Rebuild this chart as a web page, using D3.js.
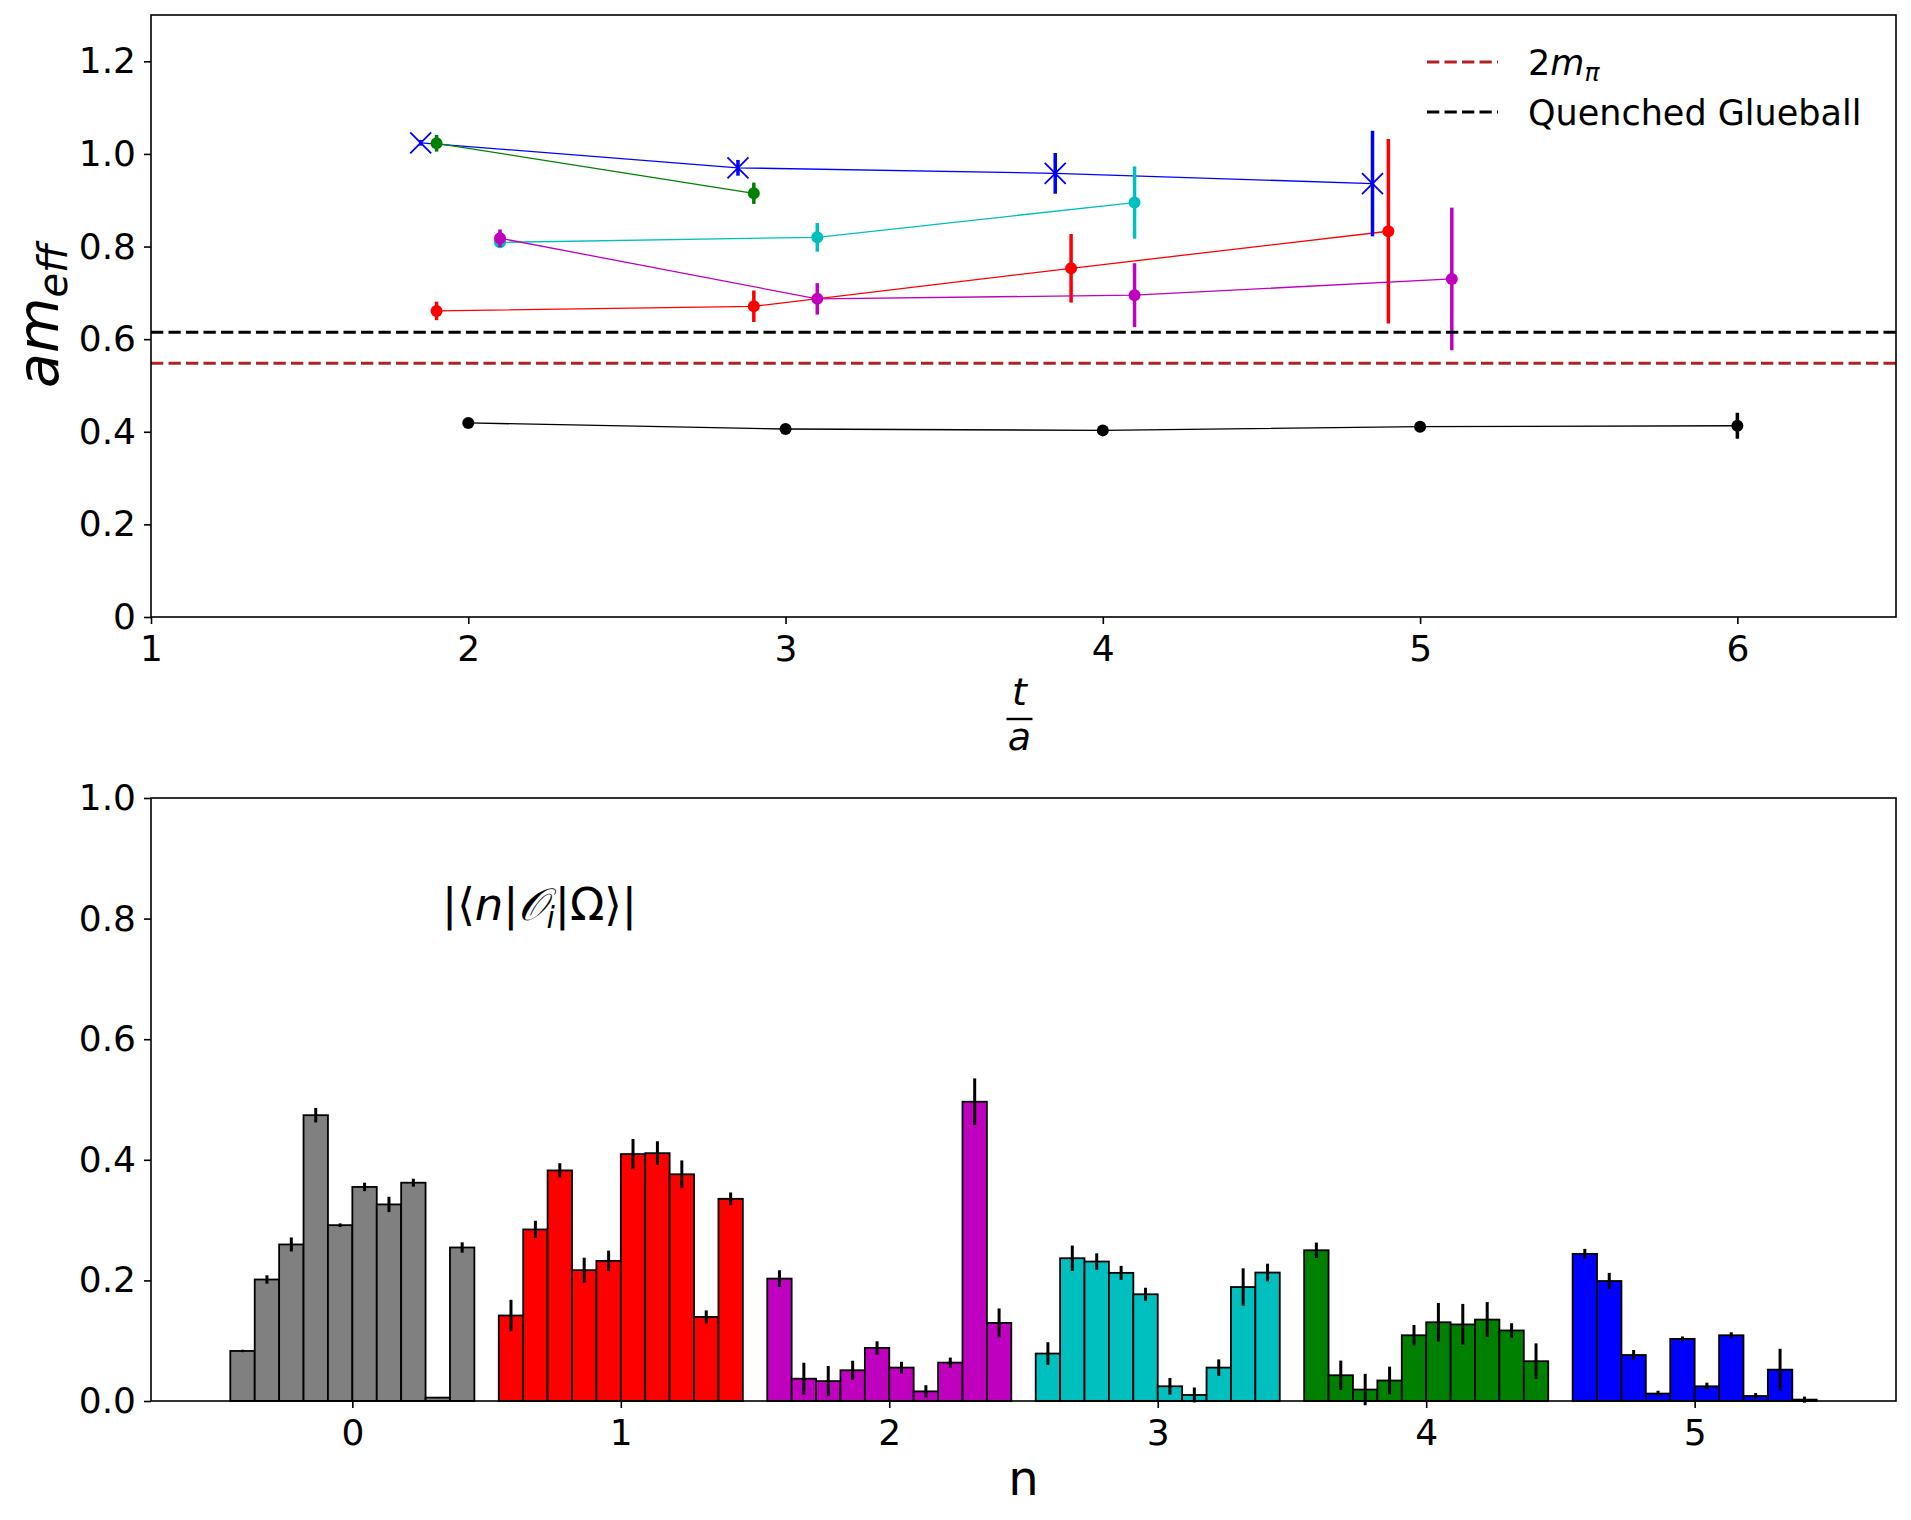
<!DOCTYPE html>
<html>
<head>
<meta charset="utf-8">
<script src="https://cdn.jsdelivr.net/npm/d3@7"></script>
<style>
  html, body { margin: 0; padding: 0; background: #fff; }
  svg { display: block; font-family: "DejaVu Sans", sans-serif; }
</style>
</head>
<body>
<div id="chart"></div>
<script>
// ── top panel: effective masses vs t/a ──────────────────────────────
const tTicks = [1, 2, 3, 4, 5, 6];
const amTicks = [0, 0.2, 0.4, 0.6, 0.8, 1.0, 1.2];

const blackT = [2, 3, 4, 5, 6];
const blackM = [0.419, 0.406, 0.403, 0.411, 0.413];
const blackE = [0.005, 0.004, 0.004, 0.008, 0.028];

const redT = [1.9, 2.9, 3.9, 4.9];
const redM = [0.661, 0.671, 0.753, 0.833];
const redE = [0.020, 0.034, 0.074, 0.199];

const blueT = [1.85, 2.85, 3.85, 4.85];
const blueM = [1.024, 0.970, 0.958, 0.936];
const blueE = [0.006, 0.017, 0.044, 0.114];

const greenT = [1.9, 2.9];
const greenM = [1.023, 0.915];
const greenE = [0.018, 0.023];

const cyanT = [2.1, 3.1, 4.1];
const cyanM = [0.809, 0.820, 0.895];
const cyanE = [0.012, 0.031, 0.078];

const magentaT = [2.1, 3.1, 4.1, 5.1];
const magentaM = [0.818, 0.687, 0.695, 0.730];
const magentaE = [0.019, 0.034, 0.069, 0.154];

const twoMpi = 0.548;
const glueball = 0.615;

// ── bottom panel: overlaps |<n|O_i|Omega>| ──────────────────────────
const nTicks = [0, 1, 2, 3, 4, 5];
const overlapTicks = [0, 0.2, 0.4, 0.6, 0.8, 1.0];

const grayVals = [0.083, 0.2015, 0.2596, 0.474, 0.2916, 0.355, 0.326, 0.362, 0.0056, 0.2546];
const grayErr  = [0.002, 0.007, 0.0116, 0.012, 0.003, 0.007, 0.0127, 0.0066, 0.001, 0.0086];
const redVals  = [0.1418, 0.2845, 0.3824, 0.217, 0.2324, 0.4095, 0.411, 0.376, 0.1394, 0.3353];
const redErr   = [0.026, 0.0144, 0.012, 0.0207, 0.017, 0.025, 0.0197, 0.023, 0.0108, 0.0105];
const magVals  = [0.203, 0.037, 0.033, 0.051, 0.088, 0.0554, 0.016, 0.0637, 0.4963, 0.1295];
const magErr   = [0.0138, 0.0265, 0.025, 0.0158, 0.011, 0.0097, 0.0102, 0.0083, 0.0387, 0.024];
const cyanVals = [0.0787, 0.2368, 0.2313, 0.2125, 0.177, 0.0244, 0.010, 0.0554, 0.189, 0.213];
const cyanErr  = [0.0188, 0.021, 0.0136, 0.0116, 0.0108, 0.0138, 0.0124, 0.0136, 0.031, 0.0147];
const greenVals = [0.250, 0.0427, 0.019, 0.034, 0.109, 0.1306, 0.127, 0.135, 0.117, 0.066];
const greenErr  = [0.0127, 0.0243, 0.026, 0.023, 0.017, 0.032, 0.034, 0.029, 0.012, 0.0296];
const blueVals = [0.244, 0.199, 0.0763, 0.0123, 0.103, 0.0244, 0.109, 0.0083, 0.052, 0.0023];
const blueErr  = [0.0083, 0.0135, 0.0083, 0.0047, 0.004, 0.006, 0.005, 0.005, 0.0346, 0.005];

const W = 1911, H = 1520;
const FS = 36;

const svg = d3.select('#chart').append('svg')
    .attr('width', W)
    .attr('height', H);
svg.append('rect').attr('width', W).attr('height', H).attr('fill', '#fff');

const X0 = 151, X1 = 1896;
const topY0 = 15, topY1 = 617;
const botY0 = 798, botY1 = 1401;

const xTop = d3.scaleLinear().domain([1, 6.5]).range([X0, X1]);
const yTop = d3.scaleLinear().domain([0, 1.3]).range([topY1, topY0]);
const xBot = d3.scaleLinear().domain([-0.75, 5.75]).range([X0, X1]);
const yBot = d3.scaleLinear().domain([0, 1]).range([botY1, botY0]);

function styleAxis(g) {
    g.select('.domain').remove();
    g.selectAll('.tick line').attr('stroke', '#000').attr('stroke-width', 1.6);
    g.selectAll('.tick text')
        .attr('fill', '#000')
        .attr('font-size', FS + 'px')
        .attr('font-family', '"DejaVu Sans", sans-serif');
}

// ── TOP PANEL ──
const topG = svg.append('g');

function errSeries(ts, ms, es, color, marker) {
    const pts = ts.map((t, i) => ({ t, m: ms[i], e: es[i] }));
    const g = topG.append('g');
    g.append('path')
        .datum(pts)
        .attr('fill', 'none')
        .attr('stroke', color)
        .attr('stroke-width', 1.3)
        .attr('d', d3.line().x(d => xTop(d.t)).y(d => yTop(d.m)));
    g.selectAll('line.err')
        .data(pts)
        .enter().append('line')
        .attr('class', 'err')
        .attr('x1', d => xTop(d.t)).attr('x2', d => xTop(d.t))
        .attr('y1', d => yTop(d.m - d.e)).attr('y2', d => yTop(d.m + d.e))
        .attr('stroke', color)
        .attr('stroke-width', 3.5);
    if (marker === 'x') {
        const s = 10.5;
        g.selectAll('path.mk')
            .data(pts)
            .enter().append('path')
            .attr('class', 'mk')
            .attr('d', d => {
                const cx = xTop(d.t), cy = yTop(d.m);
                return `M${cx - s},${cy - s}L${cx + s},${cy + s}M${cx - s},${cy + s}L${cx + s},${cy - s}`;
            })
            .attr('stroke', color)
            .attr('stroke-width', 1.8)
            .attr('fill', 'none');
    } else {
        g.selectAll('circle')
            .data(pts)
            .enter().append('circle')
            .attr('cx', d => xTop(d.t))
            .attr('cy', d => yTop(d.m))
            .attr('r', 6)
            .attr('fill', color);
    }
}

errSeries(blackT, blackM, blackE, '#000000', 'o');
errSeries(redT, redM, redE, '#ff0000', 'o');
errSeries(blueT, blueM, blueE, '#0000ff', 'x');
errSeries(greenT, greenM, greenE, '#008000', 'o');
errSeries(cyanT, cyanM, cyanE, '#00bfbf', 'o');
errSeries(magentaT, magentaM, magentaE, '#bf00bf', 'o');

// horizontal reference lines
const hLines = [
    { v: twoMpi, color: '#b22222' },
    { v: glueball, color: '#000000' },
];
topG.selectAll('line.hl')
    .data(hLines)
    .enter().append('line')
    .attr('class', 'hl')
    .attr('x1', X0).attr('x2', X1)
    .attr('y1', d => yTop(d.v)).attr('y2', d => yTop(d.v))
    .attr('stroke', d => d.color)
    .attr('stroke-width', 3)
    .attr('stroke-dasharray', '12.3 5.2');

// axes
topG.append('g')
    .attr('transform', `translate(0,${topY1})`)
    .call(d3.axisBottom(xTop).tickValues(tTicks).tickFormat(d3.format('d')).tickSize(7).tickPadding(11))
    .call(styleAxis);
topG.append('g')
    .attr('transform', `translate(${X0},0)`)
    .call(d3.axisLeft(yTop).tickValues(amTicks)
        .tickFormat(d => d === 0 ? '0' : d3.format('.1f')(d)).tickSize(7).tickPadding(8))
    .call(styleAxis);
topG.append('rect')
    .attr('x', X0).attr('y', topY0)
    .attr('width', X1 - X0).attr('height', topY1 - topY0)
    .attr('fill', 'none').attr('stroke', '#000').attr('stroke-width', 1.6);

// legend
const legend = topG.append('g');
const legRows = [
    { color: '#b22222', y: 62, label: 'pi' },
    { color: '#000000', y: 112, label: 'glue' },
];
legRows.forEach(r => {
    legend.append('line')
        .attr('x1', 1427).attr('x2', 1498)
        .attr('y1', r.y).attr('y2', r.y)
        .attr('stroke', r.color)
        .attr('stroke-width', 3)
        .attr('stroke-dasharray', '12.3 5.2');
    const txt = legend.append('text')
        .attr('x', 1528).attr('y', r.y + 13)
        .attr('font-size', '35px')
        .attr('fill', '#000');
    if (r.label === 'pi') {
        txt.append('tspan').text('2');
        txt.append('tspan').attr('font-style', 'italic').text('m');
        txt.append('tspan').attr('font-style', 'italic')
            .attr('font-size', '25px').attr('dy', 6).text('π');
    } else {
        txt.text('Quenched Glueball');
    }
});

// y label am_eff
const yl = topG.append('text')
    .attr('transform', `translate(58,${(topY0 + topY1) / 2}) rotate(-90)`)
    .attr('text-anchor', 'middle')
    .attr('font-size', '57px')
    .attr('font-style', 'italic')
    .attr('fill', '#000');
yl.append('tspan').text('am');
yl.append('tspan').attr('font-size', '40px').attr('dy', 9).text('eff');

// x label t/a as fraction
const xc = (X0 + X1) / 2 - 4;
topG.append('text')
    .attr('x', xc).attr('y', 705)
    .attr('text-anchor', 'middle')
    .attr('font-size', '38px').attr('font-style', 'italic')
    .text('t');
topG.append('line')
    .attr('x1', xc - 13).attr('x2', xc + 13)
    .attr('y1', 719).attr('y2', 719)
    .attr('stroke', '#000').attr('stroke-width', 2.4);
topG.append('text')
    .attr('x', xc).attr('y', 750)
    .attr('text-anchor', 'middle')
    .attr('font-size', '38px').attr('font-style', 'italic')
    .text('a');

// ── BOTTOM PANEL ──
const botG = svg.append('g');
const groups = [
    { vals: grayVals, errs: grayErr, color: '#808080' },
    { vals: redVals, errs: redErr, color: '#ff0000' },
    { vals: magVals, errs: magErr, color: '#bf00bf' },
    { vals: cyanVals, errs: cyanErr, color: '#00bfbf' },
    { vals: greenVals, errs: greenErr, color: '#008000' },
    { vals: blueVals, errs: blueErr, color: '#0000ff' },
];
const bw = 1 / 11;
const bars = [];
groups.forEach((g, n) => {
    g.vals.forEach((v, k) => {
        bars.push({ x: nTicks[n] + (k - 4.5) * bw, v, e: g.errs[k], color: g.color });
    });
});

botG.selectAll('rect.bar')
    .data(bars)
    .enter().append('rect')
    .attr('class', 'bar')
    .attr('x', d => xBot(d.x - bw / 2))
    .attr('width', d => xBot(d.x + bw / 2) - xBot(d.x - bw / 2))
    .attr('y', d => yBot(d.v))
    .attr('height', d => yBot(0) - yBot(d.v))
    .attr('fill', d => d.color)
    .attr('stroke', '#000')
    .attr('stroke-width', 1.8);

botG.selectAll('line.berr')
    .data(bars)
    .enter().append('line')
    .attr('class', 'berr')
    .attr('x1', d => xBot(d.x)).attr('x2', d => xBot(d.x))
    .attr('y1', d => yBot(d.v - d.e)).attr('y2', d => yBot(d.v + d.e))
    .attr('stroke', '#000')
    .attr('stroke-width', 3);

botG.append('g')
    .attr('transform', `translate(0,${botY1})`)
    .call(d3.axisBottom(xBot).tickValues(nTicks).tickFormat(d3.format('d')).tickSize(7).tickPadding(11))
    .call(styleAxis);
botG.append('g')
    .attr('transform', `translate(${X0},0)`)
    .call(d3.axisLeft(yBot).tickValues(overlapTicks).tickFormat(d3.format('.1f')).tickSize(7).tickPadding(8))
    .call(styleAxis);
botG.append('rect')
    .attr('x', X0).attr('y', botY0)
    .attr('width', X1 - X0).attr('height', botY1 - botY0)
    .attr('fill', 'none').attr('stroke', '#000').attr('stroke-width', 1.6);

// annotation |<n|O_i|Omega>|
const ann = botG.append('text')
    .attr('x', 442).attr('y', 920)
    .attr('font-size', '45px')
    .attr('fill', '#000');
ann.append('tspan').text('|⟨');
ann.append('tspan').attr('font-style', 'italic').text('n');
ann.append('tspan').text('|');
ann.append('tspan').attr('font-family', '"DejaVu Serif", serif').attr('font-style', 'italic').text('𝒪');
ann.append('tspan').attr('font-style', 'italic').attr('font-size', '30px').attr('dy', 8).text('i');
ann.append('tspan').attr('dy', -8).text('|Ω⟩|');

// x label n
botG.append('text')
    .attr('x', (X0 + X1) / 2).attr('y', 1495)
    .attr('text-anchor', 'middle')
    .attr('font-size', '48px')
    .attr('fill', '#000')
    .text('n');
</script>
</body>
</html>
